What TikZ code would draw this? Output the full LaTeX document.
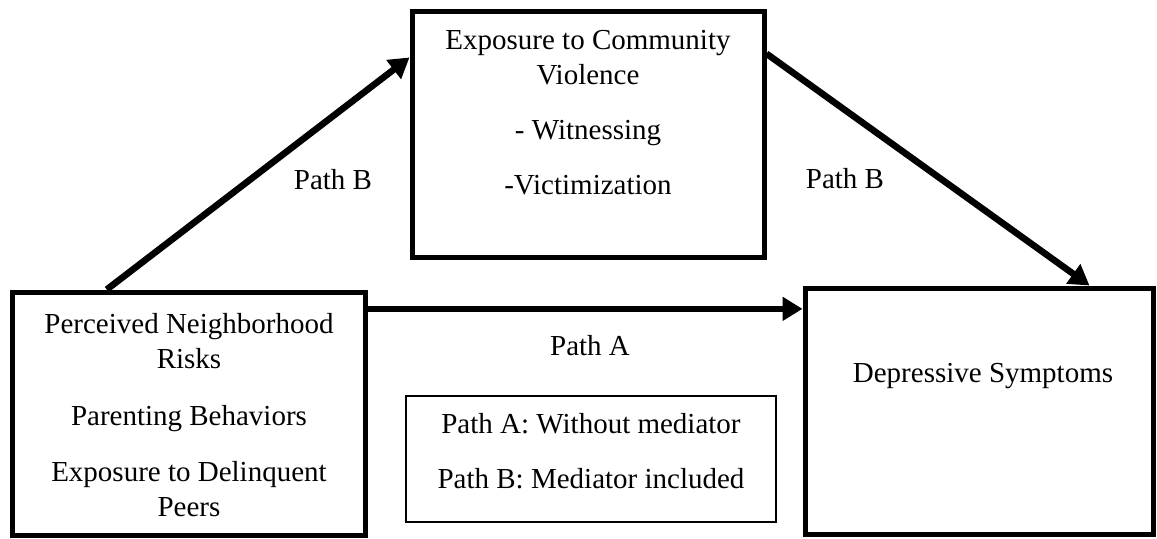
\documentclass[tikz,border=0pt]{standalone}
\usepackage{fontspec}
\setmainfont{Liberation Serif}
\usetikzlibrary{arrows.meta,calc}
\begin{document}
\begin{tikzpicture}[x=0.5pt,y=-0.5pt,
  every node/.style={font=\fontsize{14.5pt}{17.4pt}\selectfont, inner sep=0pt},
  box/.style={draw, line width=2.5pt, rectangle},
  legendbox/.style={draw, line width=0.75pt, rectangle},
  txt/.style={align=center, anchor=north},
  arr/.style={line width=3.3pt, -{Triangle[length=10pt,width=11.5pt]}}]
\useasboundingbox (0,0) rectangle (1157,538);
% boxes
\node[box, minimum width=176pt, minimum height=123pt] (tbox) at (588,134) {};
\node[box, minimum width=176.25pt, minimum height=121.5pt] (lbox) at (189,413.5) {};
\node[box, minimum width=174pt, minimum height=123pt] (rbox) at (979,411) {};
\node[legendbox, minimum width=185pt, minimum height=63pt] (lgd) at (591,459) {};
% texts
\node[txt] (ttext) at (588,30) {Exposure to Community\\Violence\\[10pt]- Witnessing\\[10pt]-Victimization};
\node[txt] (ltext) at (189,313) {Perceived Neighborhood\\Risks\\[11pt]Parenting Behaviors\\[11pt]Exposure to Delinquent\\Peers};
\node (rtext) at (983,376) {Depressive Symptoms};
\node[txt] (lgtext) at (591,413) {Path A: Without mediator\\[10pt]Path B: Mediator included};
% connectors
\coordinate (a1s) at ($(lbox.north west)!0.27!(lbox.north east)$);
\coordinate (a1e) at ($(tbox.north west)!0.195!(tbox.south west)$);
\coordinate (a2s) at ($(tbox.north east)!0.18!(tbox.south east)$);
\coordinate (a2e) at ($(rbox.north west)!0.813!(rbox.north east)$);
\coordinate (a3s) at ($(lbox.north east)!0.078!(lbox.south east)$);
\draw[arr] (a1s) -- (a1e);
\draw[arr] (a2s) -- (a2e);
\draw[arr] (a3s) -- (a3s -| rbox.west);
% labels
\node (pb1) at (333,180) {Path B};
\node (pb2) at (845,179) {Path B};
\node (pa) at (590,346) {Path A};
\end{tikzpicture}
\end{document}
